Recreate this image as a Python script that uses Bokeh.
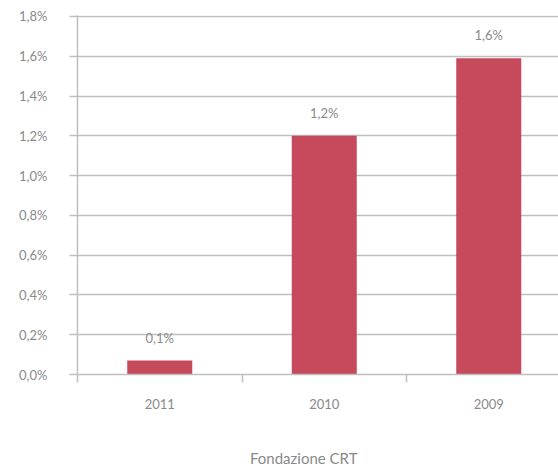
from bokeh.plotting import figure
from bokeh.layouts import column
from bokeh.models import FixedTicker, Range1d, Legend, LegendItem, ColumnDataSource
from bokeh.core.properties import value
from bokeh.embed import file_html
from bokeh.resources import INLINE

# ---- data ----
years = ["2011", "2010", "2009"]
values = [0.07, 1.20, 1.59]          # percent
value_labels = ["0,1%", "1,2%", "1,6%"]
y_ticks = [0.0, 0.2, 0.4, 0.6, 0.8, 1.0, 1.2, 1.4, 1.6, 1.8]
y_tick_labels = ["0,0%", "0,2%", "0,4%", "0,6%", "0,8%", "1,0%", "1,2%", "1,4%", "1,6%", "1,8%"]
series_name = "Fondazione CRT"

BAR = "#c64a5c"
GRID = "#bfbfbf"
TXT = "#8a8a8a"
FONT = "Lato"

xs = [i + 0.5 for i in range(len(years))]
src = ColumnDataSource(dict(x=xs, top=values, lab=value_labels))

p = figure(output_backend="svg", toolbar_location=None,
           frame_width=481, frame_height=359,
           min_border_left=77, min_border_top=15, min_border_right=0,
           min_border_bottom=50,
           x_range=Range1d(0, 481 / 164.5), y_range=Range1d(0, 1.805))
p.outline_line_color = None
p.background_fill_color = "white"
p.border_fill_color = "white"

r = p.vbar(x="x", top="top", width=65 / 164.5, bottom=0, source=src,
           fill_color=BAR, line_color=None)

p.text(x="x", y="top", text="lab", source=src, y_offset=-23,
       text_align="center", text_baseline="middle",
       text_font=value(FONT), text_font_size="13px", text_color=TXT)

# y axis
ya = p.yaxis[0]
ya.ticker = FixedTicker(ticks=y_ticks)
ya.major_label_overrides = {t: l for t, l in zip(y_ticks, y_tick_labels)}
ya.axis_line_color = GRID
ya.axis_line_width = 1.5
ya.major_tick_line_color = GRID
ya.major_tick_line_width = 1.5
ya.major_tick_out = 8
ya.major_tick_in = 0
ya.minor_tick_line_color = None
ya.major_label_standoff = 22
ya.major_label_text_font = FONT
ya.major_label_text_font_size = "13px"
ya.major_label_text_color = TXT

# x axis
xa = p.xaxis[0]
xa.ticker = FixedTicker(ticks=xs, minor_ticks=[0, 1, 2])
xa.major_label_overrides = {x: y for x, y in zip(xs, years)}
xa.axis_line_color = GRID
xa.axis_line_width = 1.5
xa.major_tick_line_color = None
xa.major_tick_out = 0
xa.major_tick_in = 0
xa.minor_tick_line_color = GRID
xa.minor_tick_line_width = 1.5
xa.minor_tick_out = 8
xa.minor_tick_in = 0
xa.major_label_standoff = 16
xa.major_label_text_font = FONT
xa.major_label_text_font_size = "13px"
xa.major_label_text_color = TXT

p.xgrid.grid_line_color = None
p.ygrid.ticker = FixedTicker(ticks=y_ticks)
p.ygrid.grid_line_color = GRID
p.ygrid.grid_line_width = 1.5

# ---- legend strip ----
p2 = figure(output_backend="svg", toolbar_location=None,
            width=558, height=44, min_border=0,
            x_axis_location=None, y_axis_location=None,
            x_range=Range1d(0, 1), y_range=Range1d(0, 1))
p2.outline_line_color = None
p2.center = []
p2.background_fill_color = "white"
p2.border_fill_color = "white"
dummy_src = ColumnDataSource(dict(x=[], top=[]))
dummy = p2.vbar(x="x", top="top", bottom=0, width=0.1, source=dummy_src,
                fill_color=BAR, line_color=None)

legend = Legend(items=[LegendItem(label=series_name, renderers=[dummy])],
                location=(156, 1), orientation="horizontal",
                border_line_color=None, background_fill_alpha=0,
                glyph_width=12, glyph_height=12, label_standoff=5,
                label_text_font=FONT, label_text_font_size="15px",
                label_text_color=TXT, margin=0, padding=0)
p2.add_layout(legend, "center")

layout = column(p, p2, spacing=0)
open("out.html", "w").write(file_html(layout, INLINE))
